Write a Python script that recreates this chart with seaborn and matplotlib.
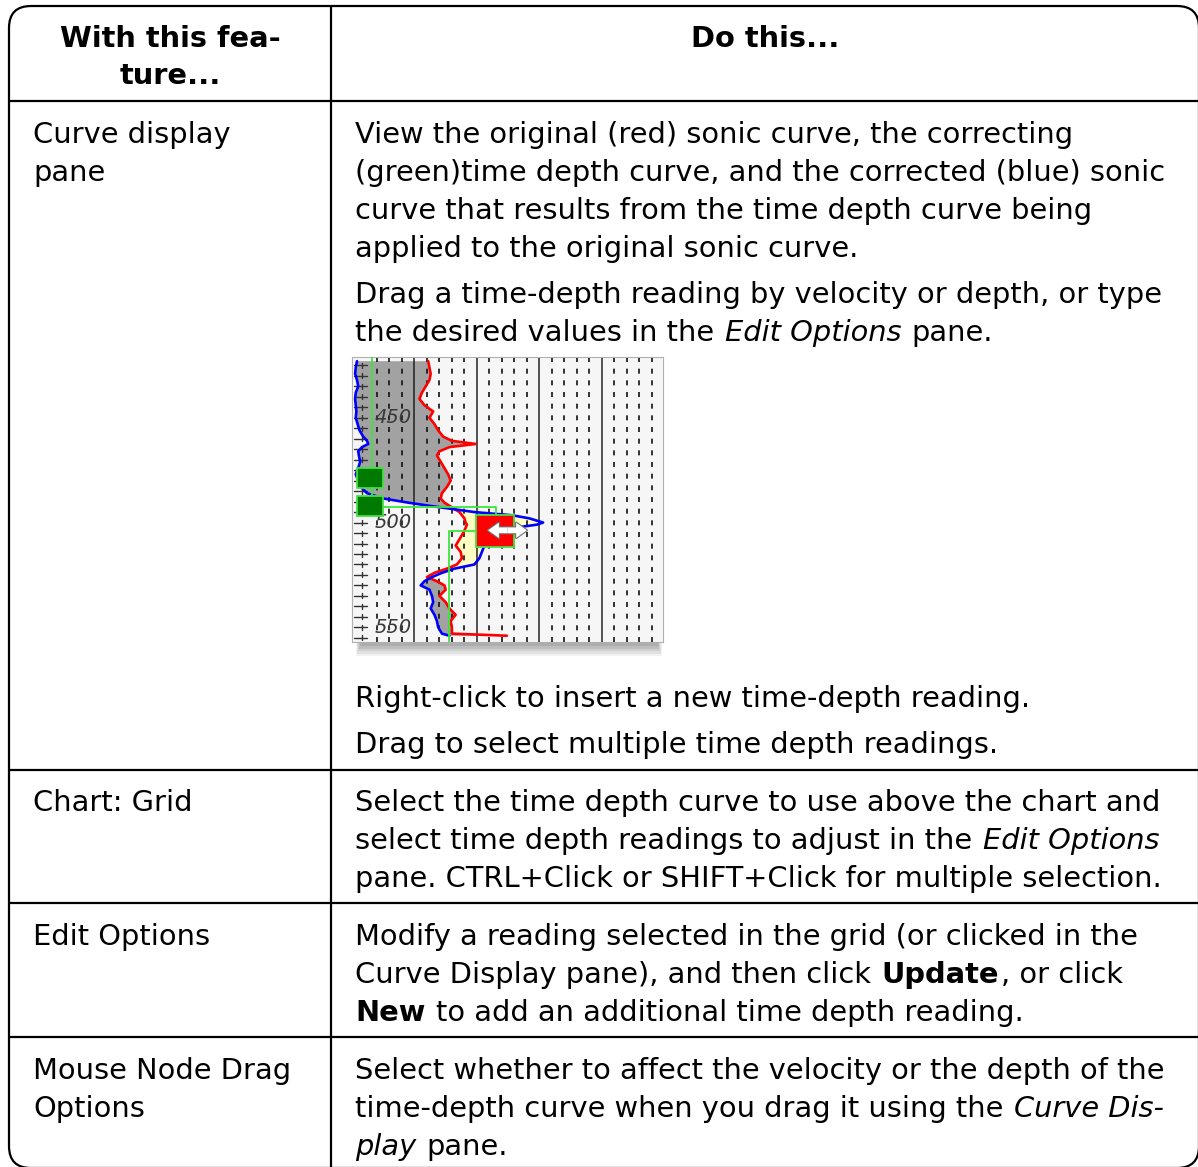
import numpy as np
import pandas as pd
import seaborn as sns
import matplotlib.pyplot as plt
from matplotlib.patches import FancyBboxPatch, Rectangle, FancyArrowPatch

# ---- table text ----
header_left = ["With this fea-", "ture..."]
header_right = "Do this..."

row_left = [
    ["Curve display", "pane"],
    ["Chart: Grid"],
    ["Edit Options"],
    ["Mouse Node Drag", "Options"],
]

# right column: list of lines, each line a list of (text, style) runs
row1_right_a = [
    [("View the original (red) sonic curve, the correcting", "n")],
    [("(green)time depth curve, and the corrected (blue) sonic", "n")],
    [("curve that results from the time depth curve being", "n")],
    [("applied to the original sonic curve.", "n")],
    [("Drag a time-depth reading by velocity or depth, or type", "n")],
    [("the desired values in the", "n"), ("Edit Options", "i"), ("pane.", "n")],
]
row1_right_b = [
    [("Right-click to insert a new time-depth reading.", "n")],
    [("Drag to select multiple time depth readings.", "n")],
]
row2_right = [
    [("Select the time depth curve to use above the chart and", "n")],
    [("select time depth readings to adjust in the", "n"), ("Edit Options", "i")],
    [("pane. CTRL+Click or SHIFT+Click for multiple selection.", "n")],
]
row3_right = [
    [("Modify a reading selected in the grid (or clicked in the", "n")],
    [("Curve Display pane), and then click", "n"), ("Update", "b"), (", or click", "n")],
    [("New", "b"), ("to add an additional time depth reading.", "n")],
]
row4_right = [
    [("Select whether to affect the velocity or the depth of the", "n")],
    [("time-depth curve when you drag it using the", "n"), ("Curve Dis-", "i")],
    [("play", "i"), ("pane.", "n")],
]

# ---- embedded curve display data (depth vs sonic) ----
depth = [423, 426, 429, 432, 435, 438, 441, 444, 447, 450,
         453, 456, 459, 461, 462.5, 464, 466, 468, 471, 474,
         477, 480, 483, 486, 488.5, 490.5, 492, 493.5, 495, 496.5,
         498, 500, 501, 502.5, 505, 508, 511, 514, 517, 520,
         522, 524, 526, 528, 530, 532, 535, 538, 541, 544,
         547, 550, 553, 554]
red_sonic = [61, 62, 63, 62, 59, 56, 54, 58, 65, 62,
             66, 69, 73, 80, 99, 78, 70, 68, 71, 74,
             77, 79, 76, 72, 71, 74, 78, 82, 86, 88,
             90, 91, 92, 91, 89, 86, 83, 87, 88, 84,
             76, 66, 60, 68, 74, 75, 70, 75, 78, 83,
             79, 80, 80, 124]
blue_sonic = [4, 3, 2.5, 4, 5, 3, 2.5, 3, 3.5, 3,
              4.5, 6, 9, 12, 13, 8, 5, 5.5, 6.5, 5,
              3, 5, 7, 12, 25, 45, 62, 80, 98, 128,
              142, 153, 148, 130, 112, 108, 106, 104, 102, 98,
              82, 72, 64, 58, 55, 62, 64, 65, 63, 66,
              68, 69, 72, 78]
green_sonic = [15.7, 15.7, 15.7, 115, 115, 78, 78]
green_depth = [421, 479, 492.5, 492.5, 504, 504, 557]
node_sonic = [14.7, 14.7]
node_depth = [478.8, 492.2]
sel_sonic, sel_depth = 114.5, 504
depth_labels = [450, 500, 550]

W, H = 1198, 1167
FS = 20.8

sns.set_theme(style="white")
plt.rcParams["font.family"] = ["DejaVu Sans"]
plt.rcParams["text.color"] = "black"

fig = plt.figure(figsize=(W / 100, H / 100), dpi=100)
ax = fig.add_axes([0, 0, 1, 1])
ax.set_xlim(0, W)
ax.set_ylim(H, 0)
ax.axis("off")
renderer = fig.canvas.get_renderer()

# table frame
L, T, R, B = 9, 6, 1199, 1168
COL = 331
frame = FancyBboxPatch((L, T), R - L, B - T, boxstyle="round,pad=0,rounding_size=22",
                       fc="white", ec="black", lw=1.6, clip_on=False)
ax.add_patch(frame)
for yy in [101, 770, 903, 1037]:
    ax.plot([L, R], [yy, yy], color="black", lw=1.6, solid_capstyle="butt")
ax.plot([COL, COL], [T, B], color="black", lw=1.6)


def put_line(x, y, runs):
    inv = ax.transData.inverted()
    for k, (txt, style) in enumerate(runs):
        kw = {}
        if style == "b":
            kw["fontweight"] = "bold"
        if style == "i":
            kw["fontstyle"] = "italic"
        t = ax.text(x, y, txt, fontsize=FS, va="baseline", ha="left", color="black", **kw)
        bb = t.get_window_extent(renderer)
        x1 = inv.transform((bb.x1, bb.y0))[0]
        nxt = runs[k + 1][0] if k + 1 < len(runs) else ""
        gap = 2 if nxt[:1] in (",", ".") else 10.5
        x = x1 + gap


def put_block(x, y0, lines, step=38):
    for i, runs in enumerate(lines):
        put_line(x, y0 + i * step, runs)


# header
for i, s in enumerate(header_left):
    ax.text((L + COL) / 2, 47 + i * 37, s, fontsize=FS, fontweight="bold",
            ha="center", va="baseline", color="black")
ax.text((COL + R) / 2, 47, header_right, fontsize=FS, fontweight="bold",
        ha="center", va="baseline", color="black")

# left column
for lines, y0 in zip(row_left, [143, 811, 945, 1079]):
    for i, s in enumerate(lines):
        ax.text(33, y0 + i * 38, s, fontsize=FS, ha="left", va="baseline", color="black")

# right column
XR = 355
put_block(XR, 143, row1_right_a[:4])
put_block(XR, 303, row1_right_a[4:])
put_block(XR, 707, row1_right_b, step=46)
put_block(XR, 811, row2_right)
put_block(XR, 945, row3_right)
put_block(XR, 1079, row4_right)

# shadow under the embedded picture
for k, a in enumerate([0.10, 0.14, 0.18, 0.22, 0.26]):
    ax.add_patch(Rectangle((356 + k, 641), 306 - 2 * k, 15 - 2.5 * k,
                           fc="#808080", ec="none", alpha=a))

# ---- embedded curve display ----
cx0, cy0, cx1, cy1 = 352, 357, 663, 642
ins = fig.add_axes([cx0 / W, 1 - cy1 / H, (cx1 - cx0) / W, (cy1 - cy0) / H])
ins.set_facecolor("#f6f6f6")
ins.set_xlim(0, 249)
ins.set_ylim(557, 421)

df = pd.DataFrame({"depth": depth, "red": red_sonic, "blue": blue_sonic})
d = np.array(depth)
rv = np.array(red_sonic)
bv = np.array(blue_sonic)
ins.fill_betweenx(d, bv, rv, where=bv <= rv, color="#a2a2a2", interpolate=True, lw=0, zorder=1)
ins.fill_betweenx(d, bv, rv, where=bv > rv, color="#ffffc4", interpolate=True, lw=0, zorder=1)

# grid
for gx in range(10, 250, 10):
    if gx % 50 == 0:
        ins.axvline(gx, color="#222222", lw=1.1, zorder=2)
    elif gx > 15:
        ins.axvline(gx, color="#111111", lw=1.2, ls=(0, (3, 4)), zorder=2)

# depth ticks and labels
for dv in range(425, 556, 5):
    ins.plot([2, 12], [dv, dv], color="#333333", lw=1, zorder=3)
    ins.plot([8, 8], [dv - 1.2, dv + 1.2], color="#333333", lw=1, zorder=3)
for dv in depth_labels:
    ins.text(18, dv, str(dv), fontsize=14, fontstyle="italic", color="#3a3a3a",
             va="center", ha="left", zorder=3)

sns.lineplot(data=df, x="red", y="depth", orient="y", sort=False, estimator=None,
             color="#ff0000", lw=1.9, ax=ins, zorder=4)
sns.lineplot(data=df, x="blue", y="depth", orient="y", sort=False, estimator=None,
             color="#0000ff", lw=1.9, ax=ins, zorder=4)
sns.lineplot(x=green_sonic, y=green_depth, orient="y", sort=False, estimator=None,
             color="#3ce63c", lw=1.3, ax=ins, zorder=5)

for nx, ny in zip(node_sonic, node_depth):
    ins.add_patch(Rectangle((nx - 10.4, ny - 4.8), 20.8, 9.6, fc="#007a00",
                            ec="#44e044", lw=1.3, zorder=6))
ins.add_patch(Rectangle((sel_sonic - 15.3, sel_depth - 7.8), 30.6, 15.6, fc="#ff0000",
                        ec="#44e044", lw=1.3, zorder=6))

# white double-headed drag arrow with gray outline (two halves from the middle)
arrow_mid, arrow_ends = 124.5, [109, 140]
arr_style = "simple,head_length=0.7,head_width=1.0,tail_width=0.38"
for end in arrow_ends:
    ins.add_patch(FancyArrowPatch((arrow_mid, sel_depth - 0.3), (end, sel_depth - 0.3),
                                  arrowstyle=arr_style, mutation_scale=11,
                                  shrinkA=0, shrinkB=0, fc="white", ec="#707070",
                                  lw=1.6, zorder=7))
for end in arrow_ends:
    ins.add_patch(FancyArrowPatch((arrow_mid, sel_depth - 0.3), (end, sel_depth - 0.3),
                                  arrowstyle=arr_style, mutation_scale=11,
                                  shrinkA=0, shrinkB=0, fc="white", ec="none",
                                  lw=0, zorder=8))

ins.set_xlabel("")
ins.set_ylabel("")
ins.set_xticks([])
ins.set_yticks([])
for side, sp in ins.spines.items():
    sp.set_color("#b0b0b0")
    sp.set_linewidth(0.8)

fig.savefig("out.png", dpi=100)
